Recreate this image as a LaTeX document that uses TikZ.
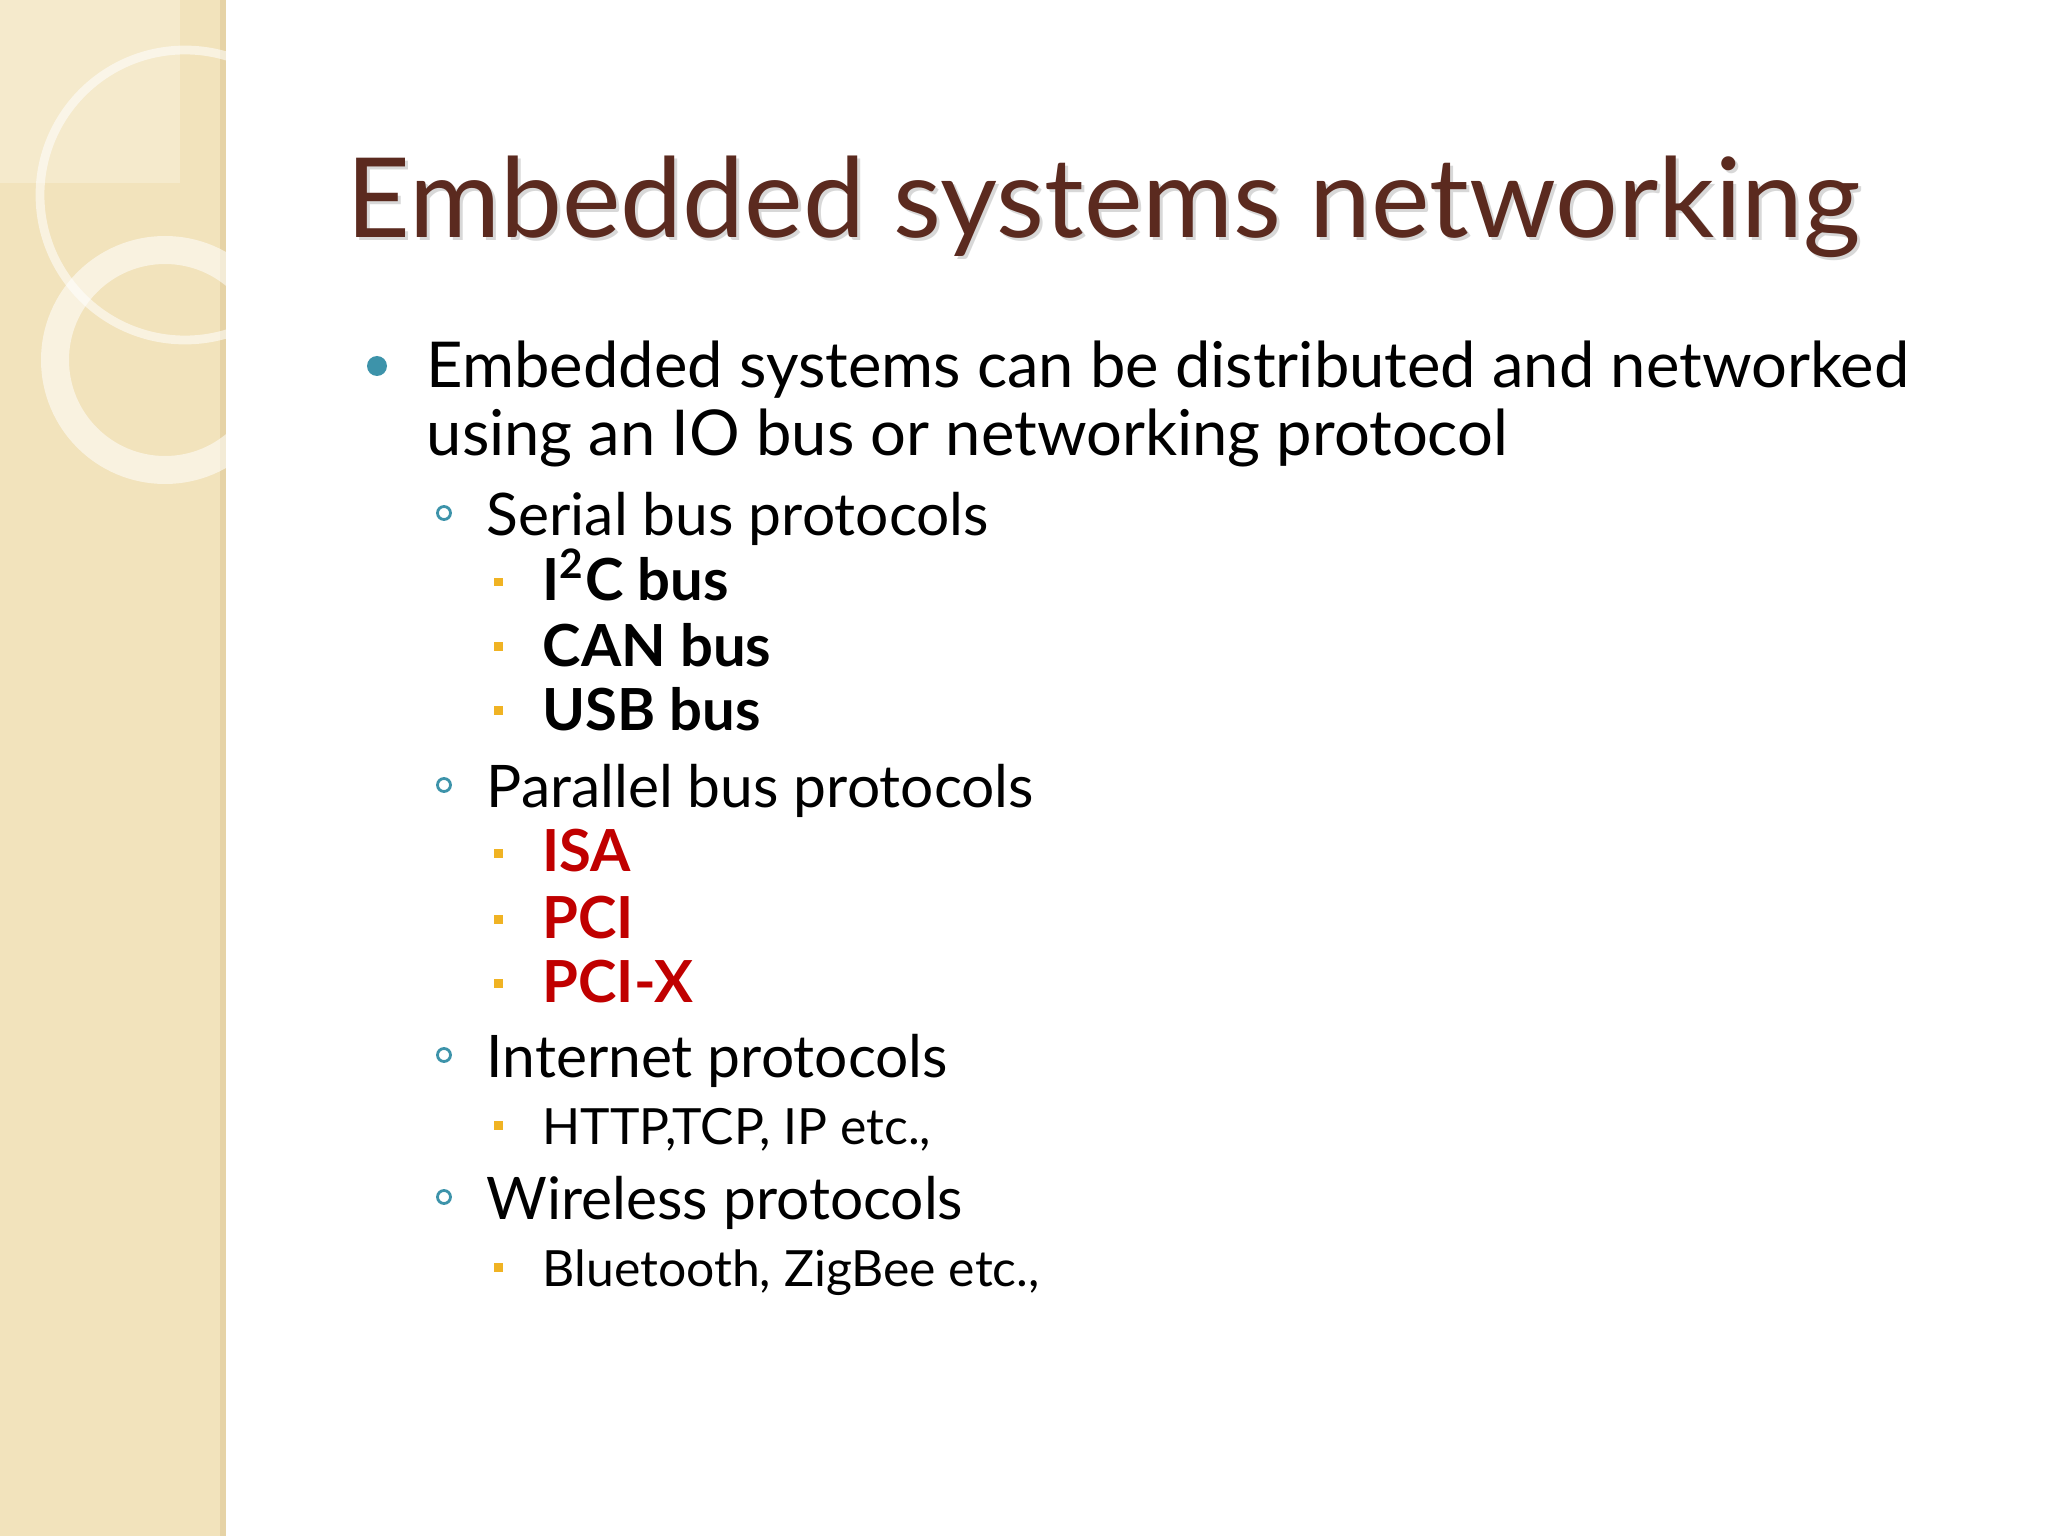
\documentclass[tikz,border=0pt]{standalone}
\usepackage{fontspec}
\setmainfont{Lato}
\definecolor{strip}{HTML}{F2E3BC}
\definecolor{stripedge}{HTML}{E6D3A6}
\definecolor{titlec}{HTML}{5B2A1F}
\definecolor{teal}{HTML}{3D93AA}
\definecolor{yel}{HTML}{F0B323}
\definecolor{redc}{HTML}{C00000}
\tikzset{
 lone/.style={anchor=base west,inner sep=0pt,font=\fontsize{18}{22}\selectfont},
 ltwo/.style={anchor=base west,inner sep=0pt,font=\fontsize{16.7}{20}\selectfont},
 lthree/.style={anchor=base west,inner sep=0pt,font=\fontsize{14.2}{17}\selectfont},
 lthreeb/.style={anchor=base west,inner sep=0pt,font=\fontsize{16.5}{19}\selectfont\bfseries},
 ring/.style={draw=white,opacity=0.55},
 hollow/.style={circle,draw=teal,line width=0.8pt,inner sep=0pt,minimum size=0.13cm},
 ydot/.style={fill=yel,inner sep=0pt,minimum size=0.09cm}
}
\begin{document}
\begin{tikzpicture}
\useasboundingbox (0,0) rectangle (20.48,-15.36);
\fill[white] (0,0) rectangle (20.48,-15.36);
\fill[strip] (0,0) rectangle (2.26,-15.36);
\fill[stripedge] (2.2,0) rectangle (2.26,-15.36);
\fill[white,opacity=0.25] (0,0) rectangle (1.8,-1.83);
\begin{scope}
\clip (0,0) rectangle (2.26,-15.36);
\draw[ring,line width=2.5pt] (1.85,-1.95) circle (1.45);
\draw[ring,line width=0.28cm] (1.65,-3.6) circle (1.1);
\end{scope}
\node[anchor=base west,inner sep=0pt,text=black!25,opacity=0.6,font=\fontsize{31.5}{38}\selectfont] at (3.49,-2.41) {Embedded systems networking};
\node (title)[anchor=base west,inner sep=0pt,text=titlec,font=\fontsize{31.5}{38}\selectfont] at (3.46,-2.38) {Embedded systems networking};
\node (b1)[circle,fill=teal,inner sep=0pt,minimum size=0.2cm] at (3.77,-3.66) {};
\node (l1)[lone] at (4.26,-3.88) {Embedded systems can be distributed and networked};
\node (l1b)[lone] at (4.26,-4.56) {using an IO bus or networking protocol};
\node (c1)[hollow] at (4.44,-5.13) {};
\node (s1)[ltwo] at (4.86,-5.35) {Serial bus protocols};
\node (y1)[ydot] at (4.98,-5.82) {};
\node (i1)[lthreeb] at (5.42,-6.01) {I\textsuperscript{2}C bus};
\node (y2)[ydot] at (4.98,-6.47) {};
\node (i2)[lthreeb] at (5.42,-6.66) {CAN bus};
\node (y3)[ydot] at (4.98,-7.11) {};
\node (i3)[lthreeb] at (5.42,-7.30) {USB bus};
\node (c2)[hollow] at (4.44,-7.85) {};
\node (s2)[ltwo] at (4.86,-8.07) {Parallel bus protocols};
\node (y4)[ydot] at (4.98,-8.53) {};
\node (i4)[lthreeb,text=redc] at (5.42,-8.72) {ISA};
\node (y5)[ydot] at (4.98,-9.19) {};
\node (i5)[lthreeb,text=redc] at (5.42,-9.38) {PCI};
\node (y6)[ydot] at (4.98,-9.83) {};
\node (i6)[lthreeb,text=redc] at (5.42,-10.02) {PCI-X};
\node (c3)[hollow] at (4.44,-10.55) {};
\node (s3)[ltwo] at (4.86,-10.77) {Internet protocols};
\node (y7)[ydot] at (4.98,-11.25) {};
\node (i7)[lthree] at (5.42,-11.44) {HTTP,TCP, IP etc.,};
\node (c4)[hollow] at (4.44,-11.97) {};
\node (s4)[ltwo] at (4.86,-12.19) {Wireless protocols};
\node (y8)[ydot] at (4.98,-12.67) {};
\node (i8)[lthree] at (5.42,-12.86) {Bluetooth, ZigBee etc.,};
\end{tikzpicture}
\end{document}
